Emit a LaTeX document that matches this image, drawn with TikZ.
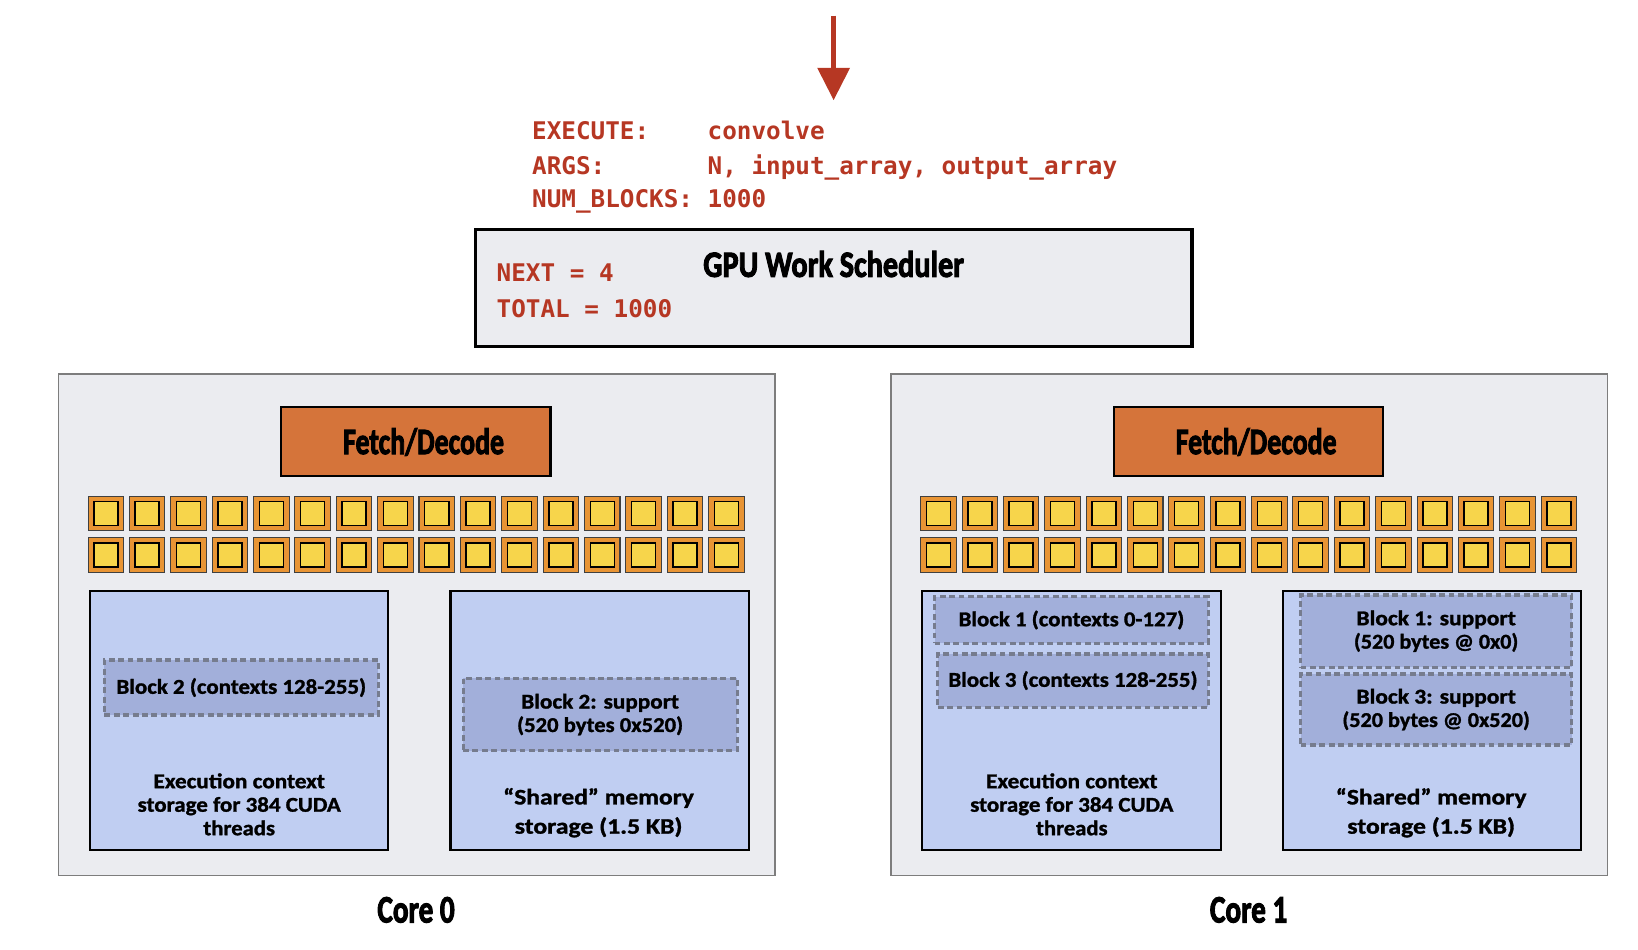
\documentclass[tikz,border=0pt]{standalone}
\usepackage{fontspec}
\setmainfont{Carlito}[BoldFeatures={FakeBold=1.3}]
\newfontfamily\titlef{Carlito}[BoldFeatures={FakeBold=3}]
\newfontfamily\monof{DejaVu Sans Mono}
\usetikzlibrary{arrows.meta}
\newlength\uu \setlength\uu{0.5pt}
\newcommand\fitw[2]{\resizebox{#1\uu}{\height}{#2}}
\definecolor{redc}{RGB}{182,55,35}
\definecolor{bgg}{RGB}{235,236,240}
\definecolor{corebd}{RGB}{125,125,125}
\definecolor{fetchc}{RGB}{213,116,58}
\definecolor{aluo}{RGB}{232,148,52}
\definecolor{alui}{RGB}{247,213,75}
\definecolor{bluec}{RGB}{192,206,242}
\definecolor{dbluec}{RGB}{162,175,218}
\definecolor{dashc}{RGB}{118,124,142}
\begin{document}
\begin{tikzpicture}[x=0.5pt,y=-0.5pt,
  monotext/.style={text=redc,inner sep=0pt,anchor=base west,font=\monof\bfseries\fontsize{11.63}{14}\selectfont},
  titletext/.style={inner sep=0pt,anchor=base,font=\titlef\bfseries\fontsize{17.7}{20}\selectfont},
  bodytext/.style={inner sep=0pt,align=center,font=\bfseries\fontsize{10.1}{11.25}\selectfont},
  schedbox/.style={draw=black,line width=1.5pt,fill=bgg,minimum width=343pt,minimum height=56pt,inner sep=0pt},
  corebox/.style={draw=corebd,line width=0.7pt,fill=bgg,minimum width=343pt,minimum height=240pt,inner sep=0pt},
  fetchbox/.style={draw=black,line width=1pt,fill=fetchc,minimum width=129pt,minimum height=33pt,inner sep=0pt,font=\titlef\bfseries\fontsize{17.7}{20}\selectfont},
  aluouter/.style={draw=black!75,line width=0.5pt,fill=aluo,minimum width=17pt,minimum height=16.5pt,inner sep=0pt},
  aluinner/.style={draw=black,line width=0.7pt,fill=alui,minimum width=11.5pt,minimum height=11.5pt,inner sep=0pt},
  bluebox/.style={draw=black,line width=1pt,fill=bluec,minimum width=142.75pt,minimum height=124.1pt,inner sep=0pt},
  dashbox/.style={draw=dashc,line width=1.5pt,dash pattern=on 2.8pt off 1.7pt,fill=dbluec,inner sep=0pt,align=center,font=\bfseries\fontsize{10.1}{11.2}\selectfont},
  redarrow/.style={draw=redc,line width=2.5pt,-{Triangle[width=15pt,length=15.5pt]}}
]
\useasboundingbox (0,0) rectangle (1568,909);

% incoming arrow
\coordinate (arrTop) at (798,15);
\coordinate (arrTip) at (798,96);
\draw[redarrow] (arrTop) -- (arrTip);

% command text
\node[monotext] (exk) at (509,133.4) {EXECUTE:};
\node[monotext] (exv) at (677,133.4) {convolve};
\node[monotext] (ark) at (509,166.9) {ARGS:};
\node[monotext] (arv) at (677,166.9) {N, input\_array, output\_array};
\node[monotext] (nbk) at (509,198.8) {NUM\_BLOCKS:};
\node[monotext] (nbv) at (677,198.8) {1000};

% scheduler
\node[schedbox] (sched) at (798,276) {};
\node[titletext] (schedlbl) at (798,265) {\fitw{249.6}{GPU Work Scheduler}};
\node[monotext] (nextv) at (475,269) {NEXT = 4};
\node[monotext] (totv) at (475,304.1) {TOTAL = 1000};

% cores
\foreach \c/\xs in {0/0,1/797}{
  \begin{scope}[shift={(\xs,0)}]
    \node[corebox] (core\c) at (399,598) {};
    \node[fetchbox] (fetch\c) at (398,423) {\hspace*{15\uu}\fitw{154}{Fetch/Decode}};
    \foreach \r/\yy in {1/491.4,2/531.45}{
      \foreach \i in {0,...,15}{
        \node[aluouter] (alu\c-\r-\i) at ({101.3+39.6*\i},\yy) {};
        \node[aluinner] (alui\c-\r-\i) at (alu\c-\r-\i) {};
      }
    }
    \node[bluebox] (ctx\c) at (228.75,689.6) {};
    \node[bluebox] (shm\c) at (574,689.6) {};
    \node[bodytext] (ctxlbl\c) at (229,770) {\fitw{164}{Execution context}\\\fitw{194.5}{storage for 384 CUDA}\\\fitw{68.5}{threads}};
    \node[bodytext,font=\bfseries\fontsize{10.6}{14}\selectfont] (shmlbl\c) at (573,778) {\fitw{182.6}{“Shared” memory}\\\fitw{160.5}{storage (1.5 KB)}};
    \node[titletext,font=\titlef\bfseries\fontsize{18.5}{21}\selectfont] (corelbl\c) at (398.3,883) {\fitw{74}{Core \c}};
  \end{scope}
}

% core 0 blocks
\node[dashbox,minimum width=131pt,minimum height=26.35pt] (b2ctx) at (231,658.15) {\fitw{239}{Block 2 (contexts 128-255)}};
\node[dashbox,minimum width=131.15pt,minimum height=34.6pt] (b2sup) at (574.45,684) {\fitw{151}{Block 2: support}\\\fitw{159}{(520 bytes 0x520)}};

% core 1 blocks
\node[dashbox,minimum width=131pt,minimum height=22.3pt] (b1ctx) at (1025.65,593.5) {\fitw{216}{Block 1 (contexts 0-127)}};
\node[dashbox,minimum width=129.45pt,minimum height=25.5pt] (b3ctx) at (1027.15,651.5) {\fitw{238.5}{Block 3 (contexts 128-255)}};
\node[dashbox,minimum width=129.75pt,minimum height=34.6pt] (b1sup) at (1374.75,604.2) {\fitw{152.6}{Block 1: support}\\\fitw{157.3}{(520 bytes @ 0x0)}};
\node[dashbox,minimum width=129.75pt,minimum height=34pt] (b3sup) at (1374.75,679.2) {\fitw{152.6}{Block 3: support}\\\fitw{179.5}{(520 bytes @ 0x520)}};
\end{tikzpicture}
\end{document}
